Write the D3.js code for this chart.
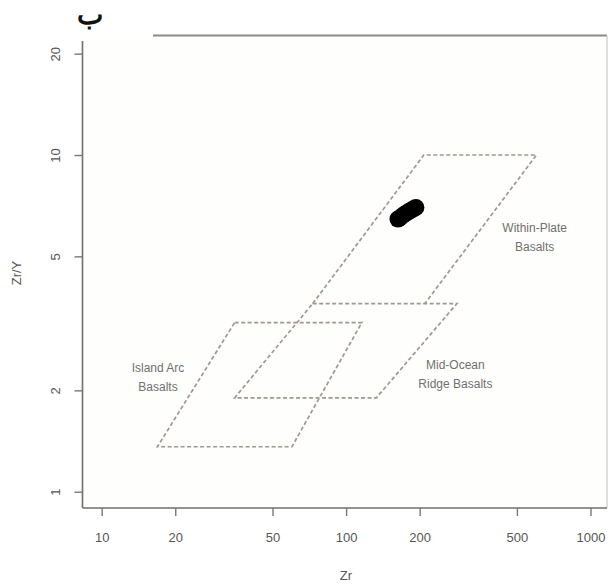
<!DOCTYPE html>
<html>
<head>
<meta charset="utf-8">
<script src="https://cdn.jsdelivr.net/npm/d3@7"></script>
<style>
  html, body { margin: 0; padding: 0; background: #ffffff; }
  svg { display: block; }
  text { font-family: "Liberation Sans", Arial, sans-serif; }
</style>
</head>
<body>
<svg id="chart" width="611" height="585"></svg>
<script>
// ---- Data ----
const xTicks = [10, 20, 50, 100, 200, 500, 1000];
const yTicks = [1, 2, 5, 10, 20];

// Field boundaries (Zr, Zr/Y)
const withinPlate = [[73, 3.62], [208, 10], [601, 10], [210, 3.62]]; // base shared with MORB top
const midOcean    = [[73, 3.62], [284, 3.62], [133, 1.9], [35, 1.9]];
const islandArc   = [[35, 3.18], [116, 3.18], [60, 1.36], [16.9, 1.36]];

const fieldLabels = [
  { lines: ["Within-Plate", "Basalts"], zr: 591, zry: 5.91 },
  { lines: ["Mid-Ocean", "Ridge Basalts"], zr: 280, zry: 2.31 },
  { lines: ["Island Arc", "Basalts"], zr: 17.0, zry: 2.27 }
];

// Samples
const sampleZr  = [163, 166, 170, 174, 178, 182, 186, 190, 193];
const sampleZrY = [6.45, 6.5, 6.6, 6.68, 6.75, 6.82, 6.88, 6.94, 6.98];

// ---- Chart ----
const svg = d3.select("#chart");
const x = d3.scaleLog().domain([10, 1000]).range([101.7, 590.5]);
const y = d3.scaleLog().domain([1, 10]).range([491.7, 155]);

const frame = { left: 82.5, right: 607, top: 35.5, bottom: 508 };

// background
svg.append("rect").attr("x", frame.left).attr("y", 41)
  .attr("width", frame.right - frame.left).attr("height", frame.bottom - 41)
  .attr("fill", "#fefefc");

// frame lines
const frameColor = "#6e6e6e";
svg.append("line").attr("x1", 153).attr("x2", frame.right).attr("y1", frame.top).attr("y2", frame.top)
  .attr("stroke", "#8a8a8a").attr("stroke-width", 1.8);
svg.append("line").attr("x1", frame.right).attr("x2", frame.right).attr("y1", frame.top).attr("y2", frame.bottom)
  .attr("stroke", "#c8c8c8").attr("stroke-width", 1.2);
svg.append("line").attr("x1", frame.left).attr("x2", frame.left).attr("y1", 41).attr("y2", frame.bottom)
  .attr("stroke", frameColor).attr("stroke-width", 1.6);
svg.append("line").attr("x1", frame.left).attr("x2", frame.right).attr("y1", frame.bottom).attr("y2", frame.bottom)
  .attr("stroke", frameColor).attr("stroke-width", 1.6);

// x axis
const xAxis = d3.axisBottom(x).tickValues(xTicks).tickFormat(d3.format("d")).tickSize(8).tickPadding(17);
const gx = svg.append("g").attr("transform", `translate(0,${frame.bottom})`).call(xAxis);
gx.select(".domain").remove();
gx.selectAll(".tick line").attr("stroke", "#777").attr("stroke-width", 1.4);
gx.selectAll(".tick text").attr("fill", "#555").attr("font-size", 13);

// y axis
const yAxis = d3.axisLeft(y).tickValues(yTicks).tickFormat(d3.format("d")).tickSize(8).tickPadding(0);
const gy = svg.append("g").attr("transform", `translate(${frame.left},0)`).call(yAxis);
gy.select(".domain").remove();
gy.selectAll(".tick line").attr("stroke", "#777").attr("stroke-width", 1.4);
gy.selectAll(".tick text")
  .attr("fill", "#555").attr("font-size", 13)
  .attr("x", null).attr("dy", null)
  .attr("text-anchor", "middle")
  .attr("transform", "translate(-27,0) rotate(-90)")
  .attr("dy", "0.35em");

// axis titles
svg.append("text").attr("x", 346).attr("y", 580).attr("text-anchor", "middle")
  .attr("fill", "#555").attr("font-size", 13).text("Zr");
svg.append("text").attr("transform", "translate(21,273) rotate(-90)").attr("text-anchor", "middle")
  .attr("fill", "#555").attr("font-size", 13).text("Zr/Y");

// fields
const closed = d3.line().x(d => x(d[0])).y(d => y(d[1])).curve(d3.curveLinearClosed);
const open = d3.line().x(d => x(d[0])).y(d => y(d[1]));
const fieldStyle = p => p.attr("fill", "none").attr("stroke", "#a39590")
  .attr("stroke-width", 1.7).attr("stroke-dasharray", "4,2.5");
svg.append("path").attr("d", open(withinPlate)).call(fieldStyle);
svg.append("path").attr("d", closed(midOcean)).call(fieldStyle);
svg.append("path").attr("d", closed(islandArc)).call(fieldStyle);

// field labels
fieldLabels.forEach(l => {
  const t = svg.append("text").attr("text-anchor", "middle")
    .attr("fill", "#707070").attr("font-size", 12);
  l.lines.forEach((s, i) => {
    t.append("tspan").attr("x", x(l.zr)).attr("y", y(l.zry) + i * 19).text(s);
  });
});

// samples
svg.append("g").selectAll("circle").data(sampleZr).join("circle")
  .attr("cx", d => x(d)).attr("cy", (d, i) => y(sampleZrY[i]))
  .attr("r", 8.5).attr("fill", "#000");

// title
svg.append("text").attr("x", 90).attr("y", 24).attr("text-anchor", "middle")
  .attr("font-family", "'DejaVu Sans', 'Noto Sans', sans-serif")
  .attr("font-weight", "bold").attr("font-size", 28).attr("fill", "#111").text("ب");
</script>
</body>
</html>
